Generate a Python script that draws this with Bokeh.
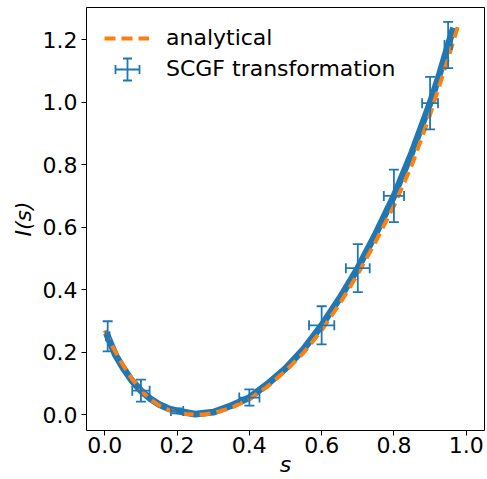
from bokeh.plotting import figure
from bokeh.models import (ColumnDataSource, Range1d, FixedTicker, Whisker, TeeHead,
                          Legend, LegendItem)
from bokeh.embed import file_html
from bokeh.resources import INLINE

# ---- data ----
s_analytic = [0.0, 0.025, 0.05, 0.075, 0.1, 0.125, 0.15, 0.175, 0.2, 0.225, 0.25,
              0.275, 0.3, 0.35, 0.4, 0.45, 0.5, 0.55, 0.6, 0.65, 0.7, 0.75, 0.8,
              0.85, 0.9, 0.95, 0.98]
I_analytic = [0.27, 0.21, 0.16, 0.115, 0.078, 0.05, 0.03, 0.016, 0.007, 0.002, 0.0,
              0.001, 0.005, 0.022, 0.05, 0.09, 0.14, 0.198, 0.27, 0.355, 0.45, 0.555,
              0.668, 0.80, 0.96, 1.14, 1.254]

s_scgf = [0.008, 0.03, 0.05, 0.075, 0.1, 0.125, 0.15, 0.175, 0.2, 0.25, 0.3, 0.35,
          0.4, 0.45, 0.5, 0.55, 0.6, 0.65, 0.7, 0.75, 0.8, 0.85, 0.9, 0.925, 0.95, 0.962]
I_scgf = [0.251, 0.19, 0.151, 0.109, 0.077, 0.052, 0.033, 0.02, 0.012, 0.002, 0.008,
          0.029, 0.055, 0.098, 0.148, 0.21, 0.286, 0.373, 0.469, 0.58, 0.70, 0.84,
          0.997, 1.085, 1.183, 1.228]

err_s = [0.008, 0.1, 0.2, 0.4, 0.6, 0.7, 0.8, 0.9, 0.95]
err_I = [0.251, 0.077, 0.012, 0.055, 0.286, 0.469, 0.70, 0.997, 1.183]
err_I_sd = [0.048, 0.035, 0.008, 0.026, 0.061, 0.077, 0.084, 0.084, 0.074]
err_s_sd = [0.005, 0.024, 0.017, 0.028, 0.035, 0.033, 0.028, 0.022, 0.01]

x_ticks = [0.0, 0.2, 0.4, 0.6, 0.8, 1.0]
x_tick_labels = ["0.0", "0.2", "0.4", "0.6", "0.8", "1.0"]
y_ticks = [0.0, 0.2, 0.4, 0.6, 0.8, 1.0, 1.2]
y_tick_labels = ["0.0", "0.2", "0.4", "0.6", "0.8", "1.0", "1.2"]

BLUE = "#1f77b4"
ORANGE = "#ff7f0e"
FONT = "DejaVu Sans"
FS = "22px"

p = figure(width=487, height=479, output_backend="svg", toolbar_location=None,
           x_range=Range1d(-0.0506, 1.0506), y_range=Range1d(-0.0505, 1.303),
           min_border_left=86, min_border_right=3, min_border_top=7,
           min_border_bottom=40)
p.grid.visible = False
p.outline_line_color = "black"
p.outline_line_width = 1
p.background_fill_color = "white"
p.border_fill_color = "white"

for ax in (p.xaxis[0], p.yaxis[0]):
    ax.axis_line_color = None
    ax.major_tick_line_color = "black"
    ax.major_tick_out = 5
    ax.major_tick_in = 0
    ax.minor_tick_line_color = None
    ax.major_label_text_font = FONT
    ax.major_label_text_font_size = FS
    ax.major_label_text_color = "black"
    ax.axis_label_text_font = FONT
    ax.axis_label_text_font_size = FS
    ax.axis_label_text_font_style = "italic"
    ax.axis_label_text_color = "black"

p.xaxis[0].ticker = FixedTicker(ticks=x_ticks)
p.xaxis[0].major_label_overrides = dict(zip(x_ticks, x_tick_labels))
p.yaxis[0].ticker = FixedTicker(ticks=y_ticks)
p.yaxis[0].major_label_overrides = dict(zip(y_ticks, y_tick_labels))
p.xaxis[0].axis_label = "s"
p.yaxis[0].axis_label = "I(s)"
p.xaxis[0].major_label_standoff = 1
p.xaxis[0].axis_label_standoff = -4
p.yaxis[0].major_label_standoff = 4
p.yaxis[0].axis_label_standoff = 4

# SCGF transformation line
r_scgf = p.line(s_scgf, I_scgf, line_color=BLUE, line_width=6.8,
                line_join="round", line_cap="square")

# error bars
src_err = ColumnDataSource(dict(
    s=err_s, I=err_I,
    ylo=[v - e for v, e in zip(err_I, err_I_sd)],
    yhi=[v + e for v, e in zip(err_I, err_I_sd)],
    xlo=[v - e for v, e in zip(err_s, err_s_sd)],
    xhi=[v + e for v, e in zip(err_s, err_s_sd)],
))


def tee(size=10):
    return TeeHead(size=size, line_color=BLUE, line_width=1.8)


p.add_layout(Whisker(source=src_err, base="s", lower="ylo", upper="yhi",
                     dimension="height", line_color=BLUE, line_width=1.8,
                     lower_head=tee(), upper_head=tee(), level="glyph"))
p.add_layout(Whisker(source=src_err, base="I", lower="xlo", upper="xhi",
                     dimension="width", line_color=BLUE, line_width=1.8,
                     lower_head=tee(), upper_head=tee(), level="glyph"))

# analytical curve
r_ana = p.line(s_analytic, I_analytic, line_color=ORANGE, line_width=4,
               line_dash="11 6")

# dummy renderer for the legend entry of the error bars
r_dummy = p.scatter(err_s, err_I, size=0, fill_alpha=0, line_alpha=0)

legend = Legend(items=[LegendItem(label="analytical", renderers=[r_ana]),
                       LegendItem(label="SCGF transformation", renderers=[r_dummy])],
                location="top_left", glyph_width=45, glyph_height=24,
                label_height=24, label_standoff=17, spacing=6, padding=18,
                margin=0, label_text_font=FONT, label_text_font_size=FS,
                label_text_color="black",
                background_fill_alpha=0, border_line_alpha=0)
p.add_layout(legend)

# legend symbol of the error bars (screen units, frame-relative)
leg_src = ColumnDataSource(dict(bx=[41], lo_y=[350], hi_y=[372],
                                by=[361], lo_x=[29], hi_x=[53]))
p.add_layout(Whisker(source=leg_src, base="bx", lower="lo_y", upper="hi_y",
                     base_units="screen", lower_units="screen", upper_units="screen",
                     dimension="height", line_color=BLUE, line_width=1.8,
                     lower_head=tee(9), upper_head=tee(9)))
p.add_layout(Whisker(source=leg_src, base="by", lower="lo_x", upper="hi_x",
                     base_units="screen", lower_units="screen", upper_units="screen",
                     dimension="width", line_color=BLUE, line_width=1.8,
                     lower_head=tee(9), upper_head=tee(9)))

open("out.html", "w").write(file_html(p, INLINE))
